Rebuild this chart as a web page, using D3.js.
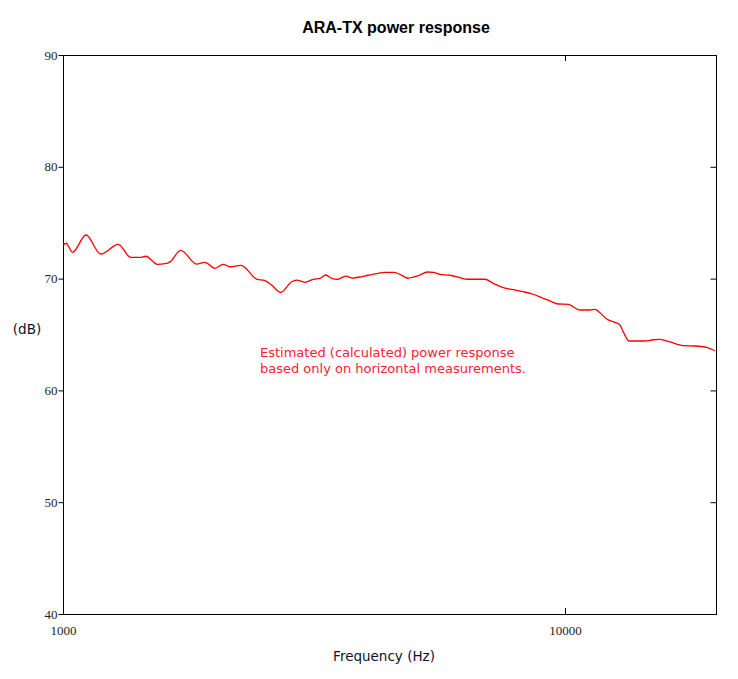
<!DOCTYPE html>
<html>
<head>
<meta charset="utf-8">
<script src="https://cdn.jsdelivr.net/npm/d3@7"></script>
<style>
  html, body { margin: 0; padding: 0; background: #fff; }
  svg { display: block; }
</style>
</head>
<body>
<div id="chart"></div>
<script>
const freqHz = [1000,1014,1045,1111,1189,1289,1364,1424,1463,1541,1597,1634,1716,1846,1918,2008,2086,2151,2262,2431,2525,2604,2715,2855,2921,3034,3152,3251,3337,3431,3526,3658,3771,3876,4058,4248,4380,4550,4692,4873,4986,5143,5318,5467,5636,5901,6178,6389,6929,7198,7537,7889,8258,8647,9052,9335,9698,10153,10713,11214,11474,11743,12111,12582,12874,13068,13414,14434,14993,15460,16190,17205,18156,19157,19896];
const powerDb = [73.0,73.16,72.35,73.9,72.2,73.07,71.9,71.9,72.0,71.28,71.33,71.5,72.53,71.3,71.46,70.92,71.28,71.06,71.19,69.96,69.81,69.43,68.77,69.72,69.87,69.67,69.94,70.03,70.32,70.03,69.94,70.23,70.05,70.12,70.3,70.47,70.56,70.56,70.38,70.03,70.14,70.32,70.59,70.56,70.38,70.3,70.08,69.94,69.94,69.58,69.19,69.01,68.83,68.6,68.24,68.0,67.73,67.7,67.19,67.19,67.25,66.95,66.39,66.09,65.85,65.25,64.42,64.42,64.53,64.57,64.33,64.0,63.97,63.85,63.55];
const yTicks = [40,50,60,70,80,90];
const xTicks = [1000,10000];
const titleText = "ARA-TX power response";
const xLabel = "Frequency (Hz)";
const yLabel = "(dB)";
const noteLines = ["Estimated (calculated) power response", "based only on horizontal measurements."];

const W = 738, H = 679;
const m = {top: 55, right: 22, bottom: 65, left: 63};
const iw = W - m.left - m.right, ih = H - m.top - m.bottom;

const svg = d3.select("#chart").append("svg").attr("width", W).attr("height", H);
const g = svg.append("g").attr("transform", `translate(${m.left},${m.top})`);

const x = d3.scaleLog().domain([1000, 20000]).range([0, iw]);
const y = d3.scaleLinear().domain([40, 90]).range([ih, 0]);

// Frame
g.append("rect").attr("x", 0.5).attr("y", 0.5).attr("width", iw).attr("height", ih)
  .attr("fill", "none").attr("stroke", "#000").attr("stroke-width", 1);

const tickFont = "'Liberation Serif', 'Times New Roman', serif";

// Left axis (outer ticks)
const yAxis = d3.axisLeft(y).tickValues(yTicks).tickSize(5).tickPadding(1).tickFormat(d3.format("d"));
const ya = g.append("g").attr("transform", "translate(0.5,0)").call(yAxis);
ya.select(".domain").remove();
ya.selectAll("line").attr("stroke", "#000");
ya.selectAll("text").attr("font-family", tickFont).attr("font-size", 13).attr("fill", "#2a2418");

// Right axis inner ticks
const yr = g.append("g").attr("transform", `translate(${iw + 0.5},0)`)
  .call(d3.axisLeft(y).tickValues(yTicks.filter(v => v > 40 && v < 90)).tickSize(6).tickFormat(""));
yr.select(".domain").remove();
yr.selectAll("line").attr("stroke", "#000");

// Bottom axis labels
const xa = g.append("g").attr("transform", `translate(0,${ih})`)
  .call(d3.axisBottom(x).tickValues(xTicks).tickSize(0).tickPadding(12).tickFormat(d3.format("d")));
xa.select(".domain").remove();
xa.selectAll("text").attr("font-family", tickFont).attr("font-size", 13).attr("fill", "#2a2418");

// Inner x ticks (bottom and top)
const innerX = xTicks.filter(v => v > 1000);
g.selectAll(".xtb").data(innerX).enter().append("line")
  .attr("x1", d => Math.round(x(d)) + 0.5).attr("x2", d => Math.round(x(d)) + 0.5)
  .attr("y1", ih).attr("y2", ih - 6).attr("stroke", "#000");
g.selectAll(".xtt").data(innerX).enter().append("line")
  .attr("x1", d => Math.round(x(d)) + 0.5).attr("x2", d => Math.round(x(d)) + 0.5)
  .attr("y1", 0).attr("y2", 6).attr("stroke", "#000");

// Curve
const data = freqHz.map((f, i) => ({f, v: powerDb[i]}));
const line = d3.line().x(d => x(d.f)).y(d => y(d.v)).curve(d3.curveMonotoneX);
g.append("path").datum(data).attr("d", line).attr("fill", "none")
  .attr("stroke", "#ff0000").attr("stroke-width", 1.3);

// Annotation
const note = g.append("text").attr("font-family", "'DejaVu Sans', Verdana, sans-serif")
  .attr("font-size", 13).attr("fill", "#ff2030");
noteLines.forEach((t, i) => {
  note.append("tspan").attr("x", 260 - m.left).attr("y", 357 - m.top + i * 16).text(t);
});

// Title
svg.append("text").attr("x", 396).attr("y", 33).attr("text-anchor", "middle")
  .attr("font-family", "'Liberation Sans', Arial, sans-serif").attr("font-weight", "bold")
  .attr("font-size", 16).attr("fill", "#000").text(titleText);

// Axis labels
svg.append("text").attr("x", 384).attr("y", 661).attr("text-anchor", "middle")
  .attr("font-family", "'DejaVu Sans', Verdana, sans-serif").attr("font-size", 13.5)
  .attr("fill", "#101030").text(xLabel);
svg.append("text").attr("x", 27).attr("y", 334).attr("text-anchor", "middle")
  .attr("font-family", "'DejaVu Sans', Verdana, sans-serif").attr("font-size", 13.5)
  .attr("fill", "#101030").text(yLabel);
</script>
</body>
</html>
